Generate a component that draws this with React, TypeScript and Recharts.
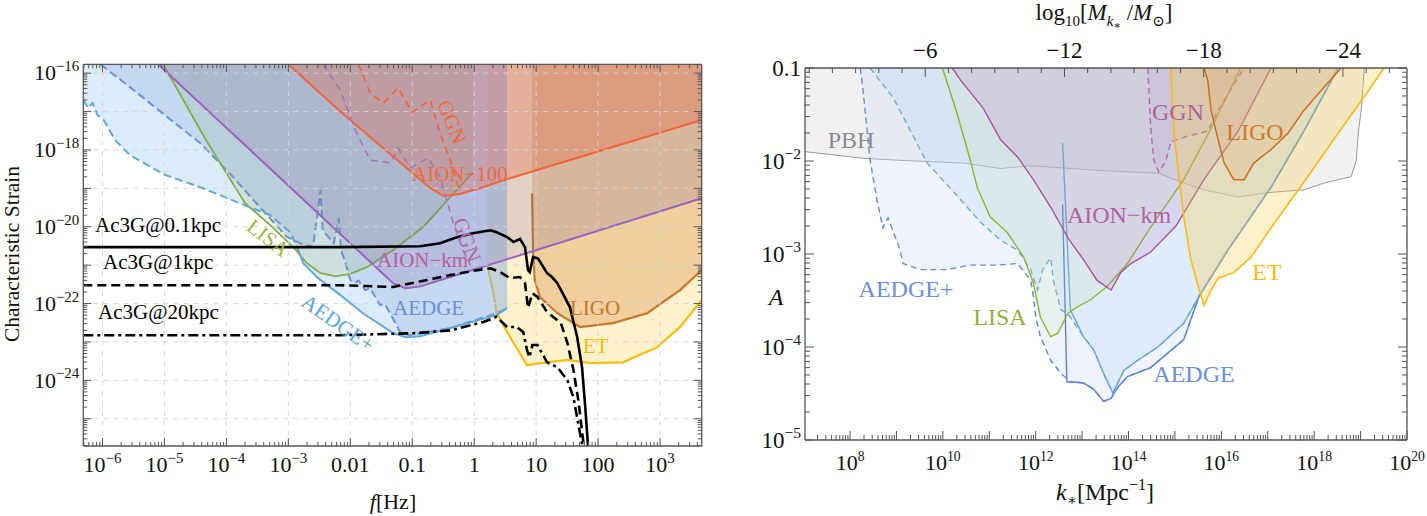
import React from "react";
import { ComposedChart, Area, Line, XAxis, YAxis, ReferenceLine } from "recharts";

type Pt = [number, number];
type TickLabel = { v: number; base: string; sup?: string };

// ---------- left panel: characteristic strain vs f [Hz] ----------
const F_MIN = 4.9e-7;
const F_MAX = 4700;
const H_MIN = 1.95e-26;
const H_MAX = 1.7e-16;

const aedgePlusL: Pt[] = [
  [4.9e-7, 2.0e-17], [5.9e-7, 1.23e-17], [6.9e-7, 1.66e-17], [8.3e-7, 8.1e-18], [1.05e-6, 6.0e-18],
  [1.6e-6, 1.8e-18], [2.8e-6, 7.2e-19], [1.05e-5, 2.2e-19], [3.8e-5, 1.07e-19], [2.0e-4, 3.6e-20],
  [5.1e-4, 2.0e-20], [1.07e-3, 7.2e-21], [1.45e-3, 2.45e-21], [1.74e-3, 1.12e-21], [3.0e-3, 4.6e-22],
  [6.9e-3, 1.66e-22], [0.016, 5.6e-23], [0.049, 1.7e-23], [0.078, 1.32e-23], [0.135, 1.41e-23],
  [0.41, 2.3e-23], [2.3, 5.0e-23], [3.4, 7.6e-23],
];
const aedgeL: Pt[] = [
  [9.3e-7, 1.7e-16], [3.2e-6, 3.6e-17], [1.12e-5, 7.1e-18], [3.8e-5, 1.5e-18], [1.29e-4, 1.95e-19],
  [2.75e-4, 4.9e-20], [9.5e-4, 5.4e-21], [1.55e-3, 3.7e-21], [2.5e-3, 2.95e-21], [3.0e-3, 2.7e-20],
  [3.3e-3, 8.9e-20], [3.6e-3, 8.1e-21], [5.4e-3, 3.7e-21], [6.2e-3, 1.1e-20], [6.5e-3, 1.66e-20],
  [7.1e-3, 2.45e-21], [8.3e-3, 1.2e-21], [0.01, 4.1e-22], [0.012, 3.4e-22], [0.0135, 4.0e-22],
  [0.0174, 2.24e-22], [0.021, 2.5e-22], [0.03, 9.1e-23], [0.036, 1.0e-22], [0.065, 1.7e-23],
  [0.093, 1.5e-23], [0.41, 2.3e-23], [2.3, 5.6e-23], [3.4, 7.6e-23],
];
const lisaL: Pt[] = [
  [9.5e-6, 1.7e-16], [4.6e-5, 1.9e-18], [2.0e-4, 4.1e-20], [5.1e-4, 1.1e-20], [1.2e-3, 2.95e-21],
  [2.0e-3, 1.12e-21], [3.3e-3, 6.2e-22], [5.8e-3, 5.1e-22], [0.01, 5.9e-22], [0.0186, 8.9e-22],
  [0.049, 2.45e-21], [0.15, 9.8e-21], [0.41, 5.9e-20], [0.95, 2.6e-19],
];
const aionKmL: Pt[] = [
  [7.9e-6, 1.7e-16], [0.049, 3.4e-22], [0.078, 2.5e-22], [0.135, 2.8e-22], [0.41, 4.9e-22], [4700, 5.5e-20],
];
const aion100L: Pt[] = [
  [1e-3, 1.7e-16], [6.9e-3, 1e-17], [0.065, 4.6e-19], [0.195, 1.02e-19], [0.32, 6.3e-20],
  [0.59, 7.1e-20], [1.26, 1.02e-19], [3.4, 1.74e-19], [4700, 6.0e-18],
];
const ggnOrangeL: Pt[] = [
  [0.0135, 1.7e-16], [0.021, 3.0e-17], [0.034, 1.66e-17], [0.059, 4.1e-17], [0.1, 9.5e-18],
  [0.195, 2.0e-17], [0.28, 2.75e-18], [0.41, 5.4e-19], [0.55, 1.07e-19],
];
const ggnPurpleL: Pt[] = [
  [3.6e-3, 1.7e-16], [6.9e-3, 3.6e-17], [0.012, 3.3e-18], [0.021, 5.4e-19], [0.045, 4.6e-19],
  [0.059, 1.12e-18], [0.093, 3.4e-19], [0.18, 6.2e-19], [0.28, 1.95e-19], [0.36, 4.9e-20],
  [0.46, 1.23e-20], [0.66, 2.45e-21], [0.87, 1e-21],
];
const ligoL: Pt[] = [
  [8.6, 7.4e-20], [8.9, 2.45e-21], [9.5, 4.1e-22], [11.5, 1.48e-22], [22, 5.6e-23], [51, 2.45e-23],
  [174, 3.1e-23], [620, 5.6e-23], [2100, 2.24e-22], [4700, 7.4e-22],
];
const etL: Pt[] = [
  [1.62, 1e-21], [2.0, 2.24e-22], [2.3, 5.6e-23], [3.8, 1.32e-23], [7.1, 2.5e-24], [15, 2.95e-24],
  [32, 3.4e-24], [74, 2.8e-24], [250, 2.95e-24], [890, 7.2e-24], [2100, 2.45e-23], [4700, 1.23e-22],
];
const ac3g01: Pt[] = [
  [4.9e-7, 2.95e-21], [6.9e-3, 2.95e-21], [0.135, 3.1e-21], [0.28, 3.7e-21], [0.54, 5.4e-21],
  [0.95, 6.8e-21], [1.82, 8.1e-21], [2.3, 7.2e-21], [3.4, 5.4e-21], [4.3, 4.0e-21], [5.5, 4.8e-21],
  [6.6, 2.95e-21], [7.4, 7.4e-22], [7.9, 6.6e-22], [8.9, 1.62e-21], [10.7, 1.5e-21], [15, 6.2e-22],
  [18, 4.9e-22], [22, 3.4e-22], [35, 8.1e-23], [46, 1.32e-23], [55, 2.2e-24], [62, 2.0e-25],
  [69, 1.8e-26], [71, 8e-27],
];
const ac3g1: Pt[] = [
  [4.9e-7, 3.0e-22], [6.9e-3, 3.0e-22], [0.049, 2.7e-22], [0.174, 4.1e-22], [0.41, 5.5e-22],
  [1.12, 7.4e-22], [1.82, 8.3e-22], [2.6, 6.6e-22], [3.8, 4.6e-22], [5.5, 4.9e-22], [6.6, 3.4e-22],
  [7.4, 7.6e-23], [8.7, 1.86e-22], [10.5, 1.48e-22], [15, 6.0e-23], [25, 3.1e-23], [32, 9.3e-24],
  [40, 1.86e-24], [48, 3.0e-25], [58, 2.3e-26], [59, 8.3e-27],
];
const ac3g20: Pt[] = [
  [4.9e-7, 1.5e-23], [6.9e-3, 1.5e-23], [0.12, 1.7e-23], [0.41, 2.0e-23], [1.41, 3.3e-23],
  [2.3, 4.5e-23], [3.4, 2.45e-23], [4.9, 2.45e-23], [6.2, 1.8e-23], [7.1, 6.2e-24], [7.8, 4.0e-24],
  [8.7, 8.3e-24], [10.5, 8.3e-24], [15, 2.95e-24], [22, 2.2e-24], [32, 1e-24], [40, 3.6e-25],
  [51, 4.2e-26], [58, 1.5e-26], [59, 8.3e-27],
];

// ---------- right panel: A vs k* [Mpc^-1] ----------
const K_MIN = 1.07e7;
const K_MAX = 1e20;
const A_MIN = 1e-5;
const A_MAX = 0.1;
// log10(M/Msun) = M_OFFSET - 2 log10(k)
const M_OFFSET = 13.24;

const pbhR: Pt[] = [
  [1.07e7, 1.26e-2], [1.9e8, 1.07e-2], [1.05e9, 1.02e-2], [2.75e10, 9.5e-3], [1.74e11, 8.3e-3],
  [7.8e11, 8.9e-3], [2.5e13, 7.9e-3], [4.3e14, 7.4e-3], [1.55e15, 5.8e-3], [4.2e15, 4.9e-3],
  [2.3e16, 4.1e-3], [1.17e17, 4.6e-3], [6.0e17, 4.9e-3], [1.66e18, 5.8e-3], [3.3e18, 6.3e-3],
  [6.3e18, 6.8e-3], [8.1e18, 1.02e-2], [8.9e18, 2.0e-2], [1.05e19, 3.8e-2], [1.2e19, 0.1],
];
const aedgeTailR: Pt[] = [
  [6.6e12, 4.2e-5], [1.07e13, 4.1e-5], [1.78e13, 3.5e-5], [2.9e13, 2.6e-5], [4.2e13, 2.8e-5],
  [5.9e13, 3.7e-5], [9.5e13, 4.8e-5], [3.0e14, 6.0e-5], [1.55e15, 1.2e-4], [3.3e15, 3.5e-4],
  [1.38e16, 1.1e-3], [1.17e17, 5.2e-3], [6.0e17, 2.1e-2], [3.3e18, 0.1],
];
const aedgePlusR: Pt[] = [
  [1.66e8, 0.1], [1.9e8, 5.8e-2], [2.7e8, 1.02e-2], [3.8e8, 3.8e-3], [5.1e8, 1.9e-3], [6.6e8, 2.45e-3],
  [8.5e8, 1.74e-3], [1.2e9, 1.1e-3], [1.38e9, 7.9e-4], [3.2e9, 6.8e-4], [1.26e10, 6.8e-4],
  [3.9e10, 7.6e-4], [1.48e11, 7.6e-4], [4.1e11, 7.9e-4], [7.8e11, 5.2e-4], [8.9e11, 3.5e-4],
  [1.0e12, 2.1e-4], [1.26e12, 1.29e-4], [2.1e12, 7.2e-5], [3.5e12, 5.2e-5], [5.6e12, 4.2e-5],
  ...aedgeTailR,
];
const aedgeR: Pt[] = [[3.8e12, 3.4e-3], [4.7e12, 4.2e-5], ...aedgeTailR];
const aedgeLightTailR: Pt[] = [
  [1.07e13, 1.29e-4], [1.78e13, 9.3e-5], [2.9e13, 5.2e-5], [4.6e13, 3.2e-5], [7.9e13, 5.6e-5],
  [1.58e14, 7.2e-5], [4.3e14, 1.0e-4], [1.55e15, 1.8e-4], [3.3e15, 3.5e-4], [1.38e16, 1.1e-3],
  [1.17e17, 5.2e-3], [6.0e17, 2.1e-2], [3.3e18, 0.1],
];
const aedgeLightR: Pt[] = [[3.8e12, 1.55e-2], [5.6e12, 2.5e-4], ...aedgeLightTailR];
const aedgePlusLightR: Pt[] = [
  [2.7e8, 0.1], [8.5e8, 4.8e-2], [4.6e9, 9.5e-3], [1.26e10, 5.5e-3], [6.5e10, 2.2e-3],
  [1.74e11, 1.41e-3], [4.1e11, 1.1e-3], [7.8e11, 6.8e-4], [1.1e12, 4.1e-4], [1.41e12, 6.8e-4],
  [2.1e12, 9.1e-4], [2.4e12, 5.2e-4], [3.5e12, 2.5e-4], [4.9e12, 2.3e-4], ...aedgeLightTailR,
];
const lisaR: Pt[] = [
  [9.8e9, 0.1], [2.0e10, 3.3e-2], [3.9e10, 1.02e-2], [5.5e10, 5.2e-3], [1.05e11, 2.5e-3],
  [2.45e11, 1.7e-3], [5.5e11, 9.3e-4], [8.9e11, 4.9e-4], [1.26e12, 2.1e-4], [2.1e12, 1.29e-4],
  [3.0e12, 1.41e-4], [4.9e12, 2.3e-4], [7.9e12, 2.7e-4], [1.5e13, 3.2e-4], [3.5e13, 4.5e-4],
  [9.5e13, 7.9e-4], [3.0e14, 1.95e-3], [1.55e15, 6.3e-3], [6.6e15, 2.45e-2], [2.6e16, 0.1],
];
const aionKmR: Pt[] = [
  [1.6e10, 0.1], [2.4e10, 7.4e-2], [7.4e10, 3.7e-2], [1.74e11, 1.7e-2], [4.1e11, 1.1e-2],
  [8.9e11, 6.3e-3], [2.1e12, 3.2e-3], [4.9e12, 1.5e-3], [1.07e13, 8.7e-4], [2.1e13, 5.2e-4],
  [4.2e13, 4.1e-4], [6.8e13, 6.3e-4], [1.12e14, 7.9e-4], [3.0e14, 1.05e-3], [1.05e15, 2.0e-3],
  [4.2e15, 6.3e-3], [2.3e16, 2.1e-2], [1.17e17, 0.1],
];
const ggnR: Pt[] = [
  [2.6e14, 0.1], [3.0e14, 2.3e-2], [3.5e14, 1.02e-2], [4.5e14, 7.6e-3], [6.3e14, 9.8e-3],
  [8.1e14, 1.6e-2], [1.55e15, 1.8e-2], [5.1e15, 2.1e-2], [8.5e15, 3.5e-2], [3.1e16, 0.1],
];
const ligoR: Pt[] = [
  [4.2e15, 0.1], [5.1e15, 7.4e-2], [6.0e15, 3.5e-2], [8.5e15, 1.7e-2], [1.15e16, 9.5e-3],
  [1.86e16, 6.3e-3], [3.1e16, 6.3e-3], [5.0e16, 9.5e-3], [7.2e16, 1.1e-2], [1.17e17, 1.32e-2],
  [2.75e17, 2.0e-2], [6.0e17, 3.5e-2], [1.66e18, 6.3e-2], [3.8e18, 0.1],
];
const etR: Pt[] = [
  [8.1e14, 0.1], [9.5e14, 2.0e-2], [1.15e15, 8.7e-3], [1.55e15, 2.5e-3], [2.2e15, 8.7e-4],
  [3.1e15, 4.7e-4], [4.2e15, 2.8e-4], [6.0e15, 4.1e-4], [8.5e15, 5.5e-4], [1.86e16, 6.3e-4],
  [4.4e16, 9.3e-4], [1.17e17, 1.9e-3], [6.0e17, 5.9e-3], [3.3e18, 2.0e-2], [1.2e19, 4.9e-2],
  [3.2e19, 0.1],
];

// ---------- tick labels ----------
const fLabels: TickLabel[] = [
  { v: 1e-6, base: "10", sup: "−6" }, { v: 1e-5, base: "10", sup: "−5" },
  { v: 1e-4, base: "10", sup: "−4" }, { v: 1e-3, base: "10", sup: "−3" },
  { v: 0.01, base: "0.01" }, { v: 0.1, base: "0.1" }, { v: 1, base: "1" },
  { v: 10, base: "10" }, { v: 100, base: "100" }, { v: 1000, base: "10", sup: "3" },
];
const hLabels: TickLabel[] = [
  { v: 1e-16, base: "10", sup: "−16" }, { v: 1e-18, base: "10", sup: "−18" },
  { v: 1e-20, base: "10", sup: "−20" }, { v: 1e-22, base: "10", sup: "−22" },
  { v: 1e-24, base: "10", sup: "−24" },
];
const kLabels: TickLabel[] = [
  { v: 1e8, base: "10", sup: "8" }, { v: 1e10, base: "10", sup: "10" },
  { v: 1e12, base: "10", sup: "12" }, { v: 1e14, base: "10", sup: "14" },
  { v: 1e16, base: "10", sup: "16" }, { v: 1e18, base: "10", sup: "18" },
  { v: 1e20, base: "10", sup: "20" },
];
const aLabels: TickLabel[] = [
  { v: 0.1, base: "0.1" }, { v: 1e-2, base: "10", sup: "−2" }, { v: 1e-3, base: "10", sup: "−3" },
  { v: 1e-4, base: "10", sup: "−4" }, { v: 1e-5, base: "10", sup: "−5" },
];
const mLabels: TickLabel[] = [
  { v: -6, base: "−6" }, { v: -12, base: "−12" }, { v: -18, base: "−18" }, { v: -24, base: "−24" },
];
const mSteps = [-1, -2, -3, -4, -5, -6, -7, -8, -9, -10, -11, -12, -13, -14, -15, -16, -17, -18, -19, -20, -21, -22, -23, -24, -25, -26];
const MINOR = [1, 2, 3, 4, 5, 6, 7, 8, 9];

function logTicks(lo: number, hi: number, e0: number, e1: number) {
  const out: number[] = [];
  for (let e = e0; e <= e1; e++)
    for (const m of MINOR) {
      const v = m * Math.pow(10, e);
      if (v >= lo * 0.9999 && v <= hi * 1.0001) out.push(v);
    }
  return out;
}
const kOfM = (m: number) => Math.pow(10, (M_OFFSET - m) / 2);
const mOfK = (k: number) => Math.round(M_OFFSET - 2 * Math.log10(k));

const fTicks = logTicks(F_MIN, F_MAX, -7, 3);
const hTicks = logTicks(H_MIN, H_MAX, -26, -16);
const kTicks = logTicks(K_MIN, K_MAX, 7, 20);
const aTicks = logTicks(A_MIN, A_MAX, -5, -1);
const mTicks = mSteps.map(kOfM);
const fGrid = [1e-6, 1e-5, 1e-4, 1e-3, 1e-2, 0.1, 1, 10, 100, 1000];
const hGrid = [1e-25, 1e-24, 1e-23, 1e-22, 1e-21, 1e-20, 1e-19, 1e-18, 1e-17, 1e-16];

const SERIF = "Liberation Serif, Times New Roman, DejaVu Serif, serif";
const FRAME = "#555";

const isDecade = (v: number) => Math.abs(Math.log10(v) - Math.round(Math.log10(v))) < 1e-6;
const findLog = (labels: TickLabel[]) => (v: number) =>
  labels.find((l) => Math.abs(Math.log10(l.v) - Math.log10(v)) < 1e-6);

type TickCfg = {
  side: "bottom" | "top" | "left" | "right";
  isMajor: (v: number) => boolean;
  major: number;
  minor: number;
  label?: (v: number) => TickLabel | undefined;
  size?: number;
  gap?: number;
  supRatio?: number;
};

function makeTick(cfg: TickCfg) {
  return (props: any) => {
    const { x, y, payload } = props;
    const v = payload.value;
    const len = cfg.isMajor(v) ? cfg.major : cfg.minor;
    const dir = { bottom: [0, -1], top: [0, 1], left: [1, 0], right: [-1, 0] }[cfg.side];
    const lab = cfg.label ? cfg.label(v) : undefined;
    const fs = cfg.size || 22;
    let txt: React.ReactNode = null;
    if (lab) {
      const sup = lab.sup ? (
        <tspan dy={-fs * 0.42} fontSize={fs * (cfg.supRatio || 0.68)}>{lab.sup}</tspan>
      ) : null;
      const common = { style: { fontFamily: SERIF }, fontSize: fs, fill: "#111" };
      if (cfg.side === "bottom")
        txt = <text x={x} y={y + (cfg.gap || 26)} textAnchor="middle" {...common}>{lab.base}{sup}</text>;
      else if (cfg.side === "top")
        txt = <text x={x} y={y - (cfg.gap || 10)} textAnchor="middle" {...common}>{lab.base}{sup}</text>;
      else if (cfg.side === "left")
        txt = <text x={x - (cfg.gap || 4)} y={y + fs * 0.33} textAnchor="end" {...common}>{lab.base}{sup}</text>;
    }
    return (
      <g>
        <line x1={x} y1={y} x2={x + dir[0] * len} y2={y + dir[1] * len} stroke={FRAME} strokeWidth={1} />
        {txt}
      </g>
    );
  };
}

const pts = (a: Pt[]) => a.map(([x, y]) => ({ x, y }));
const axisCommon = {
  allowDataOverflow: true, interval: 0 as const, tickSize: 0, tickMargin: 0, tickLine: false,
  axisLine: { stroke: FRAME, strokeWidth: 1.3 },
};

function LeftPanel() {
  return (
    <ComposedChart width={720} height={500} margin={{ top: 55.3, right: 25.3, bottom: 61, left: 74.3 }}>
      <XAxis dataKey="x" type="number" scale="log" domain={[F_MIN, F_MAX]} ticks={fTicks} height={1}
        tick={makeTick({ side: "bottom", isMajor: isDecade, major: 8, minor: 4, label: findLog(fLabels), size: 22, gap: 26 })} {...axisCommon} />
      <XAxis xAxisId="top" orientation="top" dataKey="x" type="number" scale="log" domain={[F_MIN, F_MAX]} ticks={fTicks} height={1}
        tick={makeTick({ side: "top", isMajor: isDecade, major: 8, minor: 4 })} {...axisCommon} />
      <YAxis type="number" scale="log" domain={[H_MIN, H_MAX]} ticks={hTicks} width={1}
        tick={makeTick({ side: "left", isMajor: isDecade, major: 8, minor: 4, label: findLog(hLabels), size: 22, gap: 4 })} {...axisCommon} />
      <YAxis yAxisId="right" orientation="right" type="number" scale="log" domain={[H_MIN, H_MAX]} ticks={hTicks} width={1}
        tick={makeTick({ side: "right", isMajor: isDecade, major: 8, minor: 4 })} {...axisCommon} />
      {fGrid.map((v) => (
        <ReferenceLine key={"gx" + v} x={v} stroke="#d4d4d4" strokeDasharray="5 5" strokeWidth={0.9} />
      ))}
      {hGrid.map((v) => (
        <ReferenceLine key={"gy" + v} y={v} stroke="#d4d4d4" strokeDasharray="5 5" strokeWidth={0.9} />
      ))}

      <Area xAxisId="top" yAxisId="right" data={pts(etL)} dataKey="y" baseValue="dataMax" fill="#fbbc05" fillOpacity={0.2} stroke="#fbbc05" strokeWidth={2.2} isAnimationActive={false} />
      <Area data={pts(ligoL)} dataKey="y" baseValue="dataMax" fill="#d07f2c" fillOpacity={0.3} stroke="#c8762c" strokeWidth={2.2} isAnimationActive={false} />
      <Area data={pts(aedgePlusL)} dataKey="y" baseValue="dataMax" fill="#9cc6ea" fillOpacity={0.35} stroke="none" isAnimationActive={false} />
      <Area data={pts(aedgeL)} dataKey="y" baseValue="dataMax" fill="#7fa3e0" fillOpacity={0.26} stroke="#6b93dc" strokeWidth={2} strokeDasharray="8 4" isAnimationActive={false} />
      <Area data={pts(lisaL)} dataKey="y" baseValue="dataMax" fill="#7ea34a" fillOpacity={0.15} stroke="#84ad45" strokeWidth={1.8} isAnimationActive={false} />
      <Area data={pts(aionKmL)} dataKey="y" baseValue="dataMax" fill="#80609f" fillOpacity={0.22} stroke="#9b62c1" strokeWidth={2} isAnimationActive={false} />
      <Area data={pts(aion100L)} dataKey="y" baseValue="dataMax" fill="#e8593a" fillOpacity={0.28} stroke="#f4643a" strokeWidth={2} isAnimationActive={false} />

      <Line data={pts(aedgePlusL.slice(0, 13))} dataKey="y" stroke="#62a8d8" strokeWidth={2} strokeDasharray="8 4" dot={false} isAnimationActive={false} />
      <Line data={pts(aedgePlusL.slice(12))} dataKey="y" stroke="#62a8d8" strokeWidth={2} dot={false} isAnimationActive={false} />
      <Line data={pts(ggnOrangeL)} dataKey="y" stroke="#f4643a" strokeWidth={1.8} strokeDasharray="7 5" dot={false} isAnimationActive={false} />
      <Line data={pts(ggnPurpleL)} dataKey="y" stroke="#a274b8" strokeWidth={1.5} strokeDasharray="7 5" dot={false} isAnimationActive={false} />

      <Line data={pts(ac3g01)} dataKey="y" stroke="#000" strokeWidth={2.6} dot={false} isAnimationActive={false} />
      <Line data={pts(ac3g1)} dataKey="y" stroke="#000" strokeWidth={2.6} strokeDasharray="9 5" dot={false} isAnimationActive={false} />
      <Line data={pts(ac3g20)} dataKey="y" stroke="#000" strokeWidth={2.6} strokeDasharray="10 4 3 4" dot={false} isAnimationActive={false} />
    </ComposedChart>
  );
}

function RightPanel() {
  return (
    <ComposedChart width={679} height={500} margin={{ top: 59, right: 19, bottom: 67, left: 56 }}>
      <XAxis dataKey="x" type="number" scale="log" domain={[K_MIN, K_MAX]} ticks={kTicks} height={1}
        tick={makeTick({ side: "bottom", isMajor: isDecade, major: 9, minor: 5, label: findLog(kLabels), size: 22, gap: 30, supRatio: 0.62 })} {...axisCommon} />
      <XAxis xAxisId="mk" orientation="top" dataKey="x" type="number" scale="log" domain={[K_MIN, K_MAX]} ticks={mTicks} height={1}
        tick={makeTick({ side: "top", isMajor: (v) => mOfK(v) % 6 === 0, major: 9, minor: 5, label: (v) => mLabels.find((l) => l.v === mOfK(v)), size: 23, gap: 10 })} {...axisCommon} />
      <YAxis type="number" scale="log" domain={[A_MIN, A_MAX]} ticks={aTicks} width={1}
        tick={makeTick({ side: "left", isMajor: isDecade, major: 9, minor: 5, label: findLog(aLabels), size: 23, gap: 4 })} {...axisCommon} />
      <YAxis yAxisId="right" orientation="right" type="number" scale="log" domain={[A_MIN, A_MAX]} ticks={aTicks} width={1}
        tick={makeTick({ side: "right", isMajor: isDecade, major: 9, minor: 5 })} {...axisCommon} />

      <Area xAxisId="mk" yAxisId="right" data={pts(pbhR)} dataKey="y" baseValue="dataMax" fill="#cfcfcf" fillOpacity={0.3} stroke="#9a9a9a" strokeWidth={1} isAnimationActive={false} />
      <Area data={pts(aedgePlusR)} dataKey="y" baseValue="dataMax" fill="#c6d8f5" fillOpacity={0.3} stroke="#5b8ee0" strokeWidth={1.4} strokeDasharray="6 4" isAnimationActive={false} />
      <Area data={pts(aedgePlusLightR)} dataKey="y" baseValue="dataMax" fill="#b5d3ee" fillOpacity={0.25} stroke="#6faad8" strokeWidth={1.4} strokeDasharray="6 4" isAnimationActive={false} />
      <Area data={pts(aedgeR)} dataKey="y" baseValue="dataMax" fill="none" stroke="#5b84dc" strokeWidth={1.4} isAnimationActive={false} />
      <Area data={pts(aedgeLightR)} dataKey="y" baseValue="dataMax" fill="none" stroke="#6aa8d6" strokeWidth={1.4} isAnimationActive={false} />
      <Area data={pts(lisaR)} dataKey="y" baseValue="dataMax" fill="#c6dba0" fillOpacity={0.12} stroke="#93b532" strokeWidth={1.4} isAnimationActive={false} />
      <Area data={pts(aionKmR)} dataKey="y" baseValue="dataMax" fill="#b060b8" fillOpacity={0.15} stroke="#a8539e" strokeWidth={1.4} isAnimationActive={false} />
      <Area data={pts(ggnR)} dataKey="y" baseValue="dataMax" fill="#b06aa8" fillOpacity={0.08} stroke="#b06aa8" strokeWidth={1.4} strokeDasharray="6 4" isAnimationActive={false} />
      <Area data={pts(etR)} dataKey="y" baseValue="dataMax" fill="#fdcc3c" fillOpacity={0.28} stroke="#fdb913" strokeWidth={1.6} isAnimationActive={false} />
      <Area data={pts(ligoR)} dataKey="y" baseValue="dataMax" fill="#e0a060" fillOpacity={0.2} stroke="#cc6e1f" strokeWidth={1.5} isAnimationActive={false} />
    </ComposedChart>
  );
}

function Note(p: { x: number; y: number; color: string; size?: number; rot?: number; anchor?: string; children: React.ReactNode }) {
  const { x, y, color, size = 21, rot = 0, anchor = "start" } = p;
  return (
    <text x={x} y={y} fill={color} fontSize={size} style={{ fontFamily: SERIF }} textAnchor={anchor as any}
      dominantBaseline={rot ? "central" : undefined}
      transform={rot ? `rotate(${rot} ${x} ${y})` : undefined}>
      {p.children}
    </text>
  );
}

// annotations in window pixels (the svg covers the whole window)
function Overlay() {
  const t = { fontFamily: SERIF };
  return (
    <svg width={1427} height={516} style={{ position: "absolute", left: 0, top: 0, pointerEvents: "none" }}>
      {/* left panel annotations */}
      <Note x={95} y={232} color="#000">Ac3G@0.1kpc</Note>
      <Note x={103} y={269} color="#000">Ac3G@1kpc</Note>
      <Note x={98} y={319} color="#000">Ac3G@20kpc</Note>
      <Note x={268} y={238} color="#9fb83a" rot={38} anchor="middle">LISA</Note>
      <Note x={412} y={181} color="#f2693c">AION−100</Note>
      <Note x={452} y={122} color="#f2693c" rot={68} anchor="middle">GGN</Note>
      <Note x={467} y={240} color="#b366a8" rot={70} anchor="middle">GGN</Note>
      <Note x={377} y={267} color="#b45f9e">AION−km</Note>
      <Note x={393} y={315} color="#6a8fd6">AEDGE</Note>
      <Note x={338} y={323} color="#5aa5d8" rot={35} anchor="middle">AEDGE+</Note>
      <Note x={570} y={315} color="#c5782f">LIGO</Note>
      <Note x={583} y={353} color="#fbbc05">ET</Note>
      <Note x={12} y={254} color="#111" size={21.5} rot={-90} anchor="middle">Characteristic Strain</Note>
      <text x={393} y={509} fontSize={22} style={t} textAnchor="middle" fill="#111">
        <tspan fontStyle="italic">f</tspan>[Hz]
      </text>

      {/* right panel annotations */}
      <text x={1104} y={20} fontSize={23} style={t} textAnchor="middle" fill="#111">
        log<tspan fontSize={15} dy={6}>10</tspan>
        <tspan dy={-6}>[</tspan>
        <tspan fontStyle="italic">M</tspan>
        <tspan fontSize={15} dy={6} fontStyle="italic">k</tspan>
        <tspan fontSize={11} dy={3}>∗</tspan>
        <tspan dy={-9}> /</tspan>
        <tspan fontStyle="italic">M</tspan>
        <tspan fontSize={15} dy={6}>⊙</tspan>
        <tspan dy={-6}>]</tspan>
      </text>
      <text x={776} y={305} fontSize={24} style={t} textAnchor="middle" fontStyle="italic" fill="#111">A</text>
      <text x={1105} y={500} fontSize={24} style={t} textAnchor="middle" fill="#111">
        <tspan fontStyle="italic">k</tspan>
        <tspan fontSize={15} dy={5}>∗</tspan>
        <tspan dy={-5}>[Mpc</tspan>
        <tspan fontSize={16} dy={-10}>−1</tspan>
        <tspan dy={10}>]</tspan>
      </text>
      <Note x={851} y={148} color="#8a8a8a" size={24} anchor="middle">PBH</Note>
      <Note x={906} y={297} color="#6b8fd9" size={24} anchor="middle">AEDGE+</Note>
      <Note x={1000} y={325} color="#8fb03a" size={24} anchor="middle">LISA</Note>
      <Note x={1194} y={382} color="#6b8fd9" size={24} anchor="middle">AEDGE</Note>
      <Note x={1267} y={280} color="#fbbc05" size={24} anchor="middle">ET</Note>
      <Note x={1255} y={140} color="#cc7a29" size={24} anchor="middle">LIGO</Note>
      <Note x={1178} y={120} color="#b0619f" size={24} anchor="middle">GGN</Note>
      <Note x={1119} y={223} color="#b0619f" size={24} anchor="middle">AION−km</Note>
    </svg>
  );
}

export default function App() {
  return (
    <div style={{ position: "relative", width: 1427, height: 516 }}>
      <style>{"html { overflow: hidden; } body { margin: 0; }"}</style>
      <div style={{ position: "absolute", left: 8, top: 8 }}>
        <LeftPanel />
      </div>
      <div style={{ position: "absolute", left: 748, top: 8 }}>
        <RightPanel />
      </div>
      <Overlay />
    </div>
  );
}
